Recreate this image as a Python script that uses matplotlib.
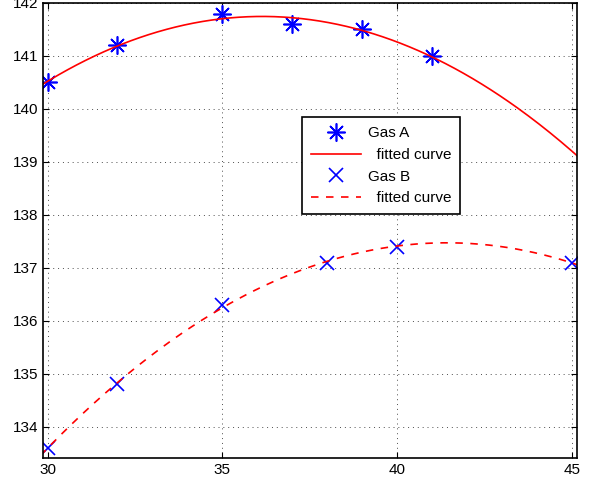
import numpy as np
import matplotlib.pyplot as plt

plt.rcParams['font.family'] = ['Liberation Sans', 'DejaVu Sans']

xa = [30, 32, 35, 37, 39, 41]
ya = [140.5, 141.2, 141.8, 141.6, 141.5, 141.0]
xb = [30, 32, 35, 38, 40, 45]
yb = [133.6, 134.8, 136.3, 137.1, 137.4, 137.1]

# quadratic fits, as in the original figure
pa = np.polyfit(xa, ya, 2)
pb = np.polyfit(xb, yb, 2)
xx = np.linspace(29.8, 45.2, 300)

fig = plt.figure(figsize=(6.01, 4.83), dpi=100)
ax = fig.add_axes([0.0715, 0.0518, 0.888, 0.942])

ax.plot(xa, ya, linestyle='none', marker=(8, 2, 0), ms=13, mew=1.2, color='b', label='Gas A')
ax.plot(xx, np.polyval(pa, xx), 'r-', lw=1.2, label='  fitted curve')
ax.plot(xb, yb, linestyle='none', marker='x', ms=10, mew=1.2, color='b', label='Gas B')
ax.plot(xx, np.polyval(pb, xx), 'r--', lw=1.2, dashes=(4.5, 4.5), label='  fitted curve')

ax.set_xlim(29.87, 45.14)
ax.set_ylim(133.41, 142)
ax.set_xticks([30, 35, 40, 45])
ax.set_yticks(range(134, 143))
ax.tick_params(direction='in', top=True, right=True, labelsize=11, length=4)
ax.grid(True, linestyle=(0, (1, 4)), color='0.3', lw=0.7)
for s in ax.spines.values():
    s.set_linewidth(1.2)

leg = ax.legend(loc='upper left', bbox_to_anchor=(0.485, 0.749), fontsize=11,
                fancybox=False, framealpha=1, edgecolor='k', borderpad=0.6,
                handlelength=3.3, handletextpad=0.4, labelspacing=0.5,
                borderaxespad=0)
leg.get_frame().set_linewidth(1.2)

plt.savefig('out.png', dpi=100)
